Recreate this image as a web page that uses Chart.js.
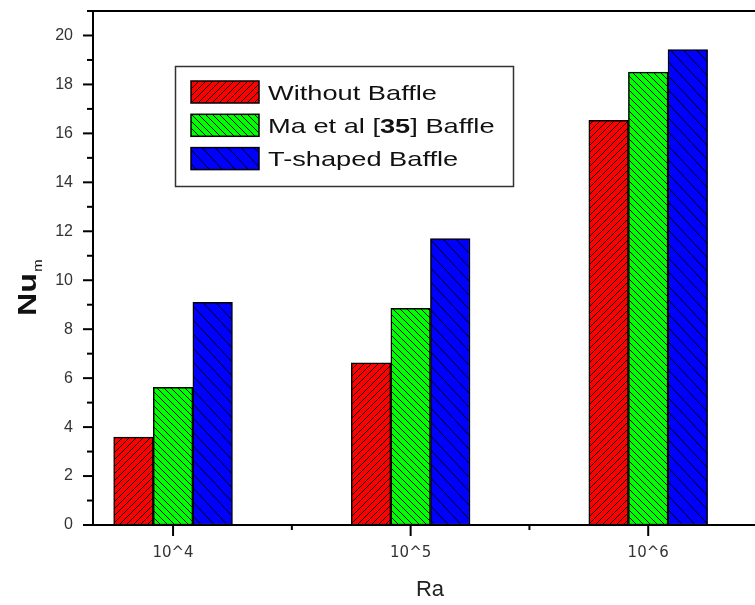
<!DOCTYPE html>
<html><head><meta charset="utf-8">
<script src="https://cdn.jsdelivr.net/npm/chart.js@4.4.1/dist/chart.umd.min.js"></script>
<style>html,body{margin:0;padding:0;background:#fff;overflow:hidden;width:755px;height:605px}canvas{display:block}</style>
</head><body><canvas id="c" width="767" height="605"></canvas>
<script>
// ---- data ----
const categories = ['10^4', '10^5', '10^6'];
const seriesNames = ['Without Baffle', 'Ma et al [35] Baffle', 'T-shaped Baffle'];
const withoutBaffle = [3.59, 6.63, 16.53];
const maBaffle = [5.62, 8.85, 18.5];
const tShapedBaffle = [9.1, 11.7, 19.42];
const yTickLabels = ['0', '2', '4', '6', '8', '10', '12', '14', '16', '18', '20'];
const xTitle = 'Ra';
const yTitleMain = 'Nu';
const yTitleSub = 'm';

// ---- styles ----
const seriesColors = ['#FF0000', '#00FF00', '#0000FF'];
function hatch(color, w, h, dir) {
  const c = document.createElement('canvas');
  c.width = w; c.height = h;
  const g = c.getContext('2d');
  g.fillStyle = color; g.fillRect(0, 0, w, h);
  g.strokeStyle = '#000'; g.lineWidth = 1;
  g.beginPath();
  for (let k = -1; k <= 1; k++) {
    if (dir === '/') { g.moveTo(k * w, h); g.lineTo(k * w + w, 0); }
    else { g.moveTo(k * w, 0); g.lineTo(k * w + w, h); }
  }
  g.stroke();
  return g.createPattern(c, 'repeat');
}
const patterns = [
  hatch(seriesColors[0], 7, 7, '/'),
  hatch(seriesColors[1], 7, 7, '\\'),
  hatch(seriesColors[2], 13, 14, '\\')
];
const seriesValues = [withoutBaffle, maBaffle, tShapedBaffle];
const datasets = seriesNames.map((name, i) => ({
  label: name,
  data: seriesValues[i].map((v, j) => ({ x: j + 1, y: v })),
  backgroundColor: patterns[i],
  borderColor: '#000',
  borderWidth: 1.5,
  borderSkipped: false,
  categoryPercentage: 1,
  barPercentage: 1
}));

const isInt = v => Math.abs(v - Math.round(v)) < 1e-6;

const frame = {
  id: 'frame',
  afterDraw(chart) {
    const ctx = chart.ctx, a = chart.chartArea;
    const xs = chart.scales.x, ys = chart.scales.y;
    ctx.save();
    ctx.strokeStyle = '#000'; ctx.lineWidth = 2;
    // top line
    ctx.beginPath(); ctx.moveTo(a.left - 1, a.top); ctx.lineTo(a.right, a.top); ctx.stroke();
    // y ticks
    ys.ticks.forEach(t => {
      const y = ys.getPixelForValue(t.value);
      const major = isInt(t.value / 2);
      const len = major ? 10 : 6;
      ctx.beginPath(); ctx.moveTo(a.left - len, y); ctx.lineTo(a.left, y); ctx.stroke();
    });
    // x ticks
    xs.ticks.forEach(t => {
      const x = xs.getPixelForValue(t.value);
      const len = isInt(t.value) ? 11 : 5;
      ctx.beginPath(); ctx.moveTo(x, a.bottom); ctx.lineTo(x, a.bottom + len); ctx.stroke();
    });
    // y title Nu_m
    ctx.fillStyle = '#111';
    ctx.textBaseline = 'alphabetic'; ctx.textAlign = 'left';
    ctx.translate(36, 316); ctx.rotate(-Math.PI / 2);
    ctx.font = 'bold 26px "Liberation Sans", Arial, sans-serif';
    const nw = ctx.measureText(yTitleMain).width;
    ctx.scale(43 / nw, 1);
    ctx.fillText(yTitleMain, 0, 0);
    ctx.font = '12px "Liberation Sans", Arial, sans-serif';
    ctx.fillText(yTitleSub, nw + 1, 6);
    ctx.restore();

    // legend
    ctx.save();
    ctx.strokeStyle = '#333'; ctx.lineWidth = 1.5;
    ctx.strokeRect(175.5, 66.5, 338, 120);
    ctx.font = '21px "Liberation Sans", Arial, sans-serif';
    const sx = 169 / ctx.measureText(seriesNames[0]).width;
    chart.data.datasets.forEach((ds, i) => {
      const y = 81 + i * 33.3;
      ctx.fillStyle = ds.backgroundColor;
      ctx.fillRect(191, y, 68, 22);
      ctx.strokeStyle = '#000'; ctx.lineWidth = 1.5;
      ctx.strokeRect(191, y, 68, 22);
      ctx.save();
      ctx.translate(268, y + 18.5);
      ctx.scale(sx, 1);
      ctx.fillStyle = '#111'; ctx.textBaseline = 'alphabetic'; ctx.textAlign = 'left';
      let cx = 0;
      ds.label.split(/(\d+)/).forEach(part => {
        if (!part) return;
        ctx.font = (/^\d+$/.test(part) ? 'bold ' : '') + '21px "Liberation Sans", Arial, sans-serif';
        ctx.fillText(part, cx, 0);
        cx += ctx.measureText(part).width;
      });
      ctx.restore();
    });
    ctx.restore();
  }
};

new Chart(document.getElementById('c'), {
  type: 'bar',
  data: { datasets },
  options: {
    responsive: false,
    animation: false,
    devicePixelRatio: 1,
    layout: { padding: { top: 11, left: 0, right: 0, bottom: 0 } },
    plugins: { legend: { display: false }, tooltip: { enabled: false } },
    scales: {
      x: {
        type: 'linear', min: 0.663, max: 3.5, offset: false,
        grid: { display: false, drawTicks: false, offset: false },
        border: { display: true, color: '#000', width: 2 },
        ticks: {
          stepSize: 0.5, includeBounds: false, autoSkip: false, maxRotation: 0, minRotation: 0,
          padding: 19, color: '#333',
          font: { family: '"DejaVu Sans", sans-serif', size: 15 },
          callback: v => isInt(v) && categories[Math.round(v) - 1] !== undefined ? categories[Math.round(v) - 1] : ''
        },
        title: { display: true, text: xTitle, color: '#222', font: { family: '"Liberation Sans", Arial, sans-serif', size: 22 }, padding: { top: 0, bottom: 2 } },
        afterFit: s => { s.height = 80; s.paddingLeft = 0; s.paddingRight = 0; }
      },
      y: {
        min: 0, max: 21,
        grid: { display: false, drawTicks: false },
        border: { display: true, color: '#000', width: 2 },
        ticks: {
          stepSize: 1, autoSkip: false, padding: 20, color: '#333',
          font: { family: '"Liberation Sans", Arial, sans-serif', size: 16 },
          callback: v => (isInt(v / 2) && yTickLabels[Math.round(v / 2)] !== undefined) ? yTickLabels[Math.round(v / 2)] : ''
        },
        afterFit: s => { s.width = 93; s.paddingTop = 0; s.paddingBottom = 0; }
      }
    }
  },
  plugins: [frame]
});
</script>
</body></html>
